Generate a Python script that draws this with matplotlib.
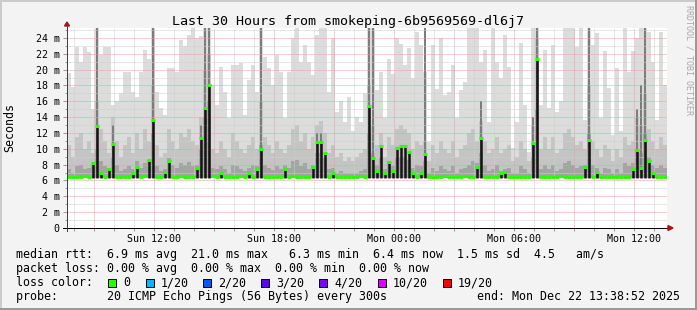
import datetime as dt
import matplotlib
matplotlib.use("Agg")
import matplotlib.pyplot as plt
import matplotlib.dates as mdates
from matplotlib.patches import Rectangle, Polygon
from matplotlib.ticker import MultipleLocator
import numpy as np

plt.rcParams["font.family"] = "DejaVu Sans Mono"

start = dt.datetime(2025, 12, 21, 7, 38, 52)
end = dt.datetime(2025, 12, 22, 13, 38, 52)
bin_minutes = 12

# smoke, ms per 12 minute bin (150 bins)
smoke_max = [
    19.6, 17.8, 22.9, 21.0, 22.9, 22.2, 15.0, 26.0, 21.8, 22.9,
    22.9, 15.5, 16.0, 17.0, 19.7, 19.7, 17.2, 16.6, 19.7, 22.5,
    21.3, 26.0, 17.2, 15.1, 14.3, 20.2, 20.2, 19.7, 23.8, 23.0,
    24.4, 26.0, 24.0, 24.2, 26.0, 26.0, 18.0, 15.5, 20.3, 17.2,
    13.9, 20.6, 20.6, 20.8, 14.3, 18.7, 20.6, 17.2, 26.0, 21.6,
    20.2, 18.1, 21.8, 19.7, 13.9, 19.7, 24.0, 26.0, 21.0, 23.1,
    21.0, 19.3, 24.4, 26.0, 26.0, 17.2, 24.0, 14.7, 16.0, 13.4,
    16.5, 12.2, 14.0, 13.4, 17.0, 26.0, 26.0, 17.4, 19.7, 13.9,
    21.4, 19.5, 24.0, 23.3, 20.6, 22.7, 18.9, 24.8, 23.1, 19.7,
    10.9, 23.1, 17.6, 24.0, 16.8, 17.2, 20.6, 13.9, 17.4, 18.5,
    26.0, 26.0, 26.0, 21.0, 22.5, 13.4, 26.0, 21.0, 18.9, 24.4,
    20.3, 10.1, 13.4, 23.4, 15.5, 9.6, 26.0, 26.0, 15.5, 22.5,
    15.1, 23.1, 14.7, 16.0, 26.0, 26.0, 26.0, 22.9, 26.0, 13.6,
    26.0, 23.1, 24.6, 13.9, 22.3, 17.7, 11.7, 20.2, 12.2, 26.0,
    19.7, 22.3, 24.0, 26.0, 26.0, 24.8, 21.0, 13.6, 24.8, 18.1,
]
smoke_mid = [
    10.5, 9.0, 11.5, 12.0, 10.0, 11.0, 9.5, 16.0, 12.5, 11.0,
    9.5, 14.0, 11.0, 9.0, 10.5, 11.5, 9.5, 12.0, 10.0, 12.5,
    11.0, 18.0, 10.5, 9.0, 9.5, 12.5, 11.0, 10.0, 12.0, 11.5,
    12.5, 11.0, 10.5, 14.0, 20.0, 22.0, 10.0, 9.5, 11.0, 10.0,
    9.0, 12.0, 11.0, 10.0, 9.5, 10.5, 11.5, 10.0, 16.0, 11.5,
    10.5, 9.5, 11.0, 10.0, 9.5, 10.5, 12.5, 13.0, 11.0, 12.0,
    10.0, 11.5, 13.0, 13.5, 12.0, 9.5, 10.5, 9.0, 9.5, 8.5,
    9.0, 8.5, 9.0, 9.5, 10.0, 18.0, 13.0, 10.5, 12.0, 9.0,
    11.5, 10.5, 12.5, 13.0, 12.5, 12.0, 10.0, 11.0, 10.5, 11.0,
    8.5, 10.5, 9.5, 11.0, 10.0, 9.5, 11.0, 9.0, 10.0, 10.5,
    12.0, 12.5, 11.0, 13.5, 11.0, 9.5, 10.0, 11.5, 9.5, 10.0,
    10.5, 8.5, 9.0, 11.0, 10.0, 8.5, 13.0, 24.0, 10.0, 11.5,
    10.0, 11.5, 9.5, 10.0, 12.0, 12.5, 11.5, 10.5, 11.0, 10.0,
    18.0, 11.0, 10.0, 9.0, 10.5, 10.0, 8.5, 10.0, 9.0, 11.5,
    10.5, 11.0, 14.0, 13.0, 17.0, 12.5, 11.0, 10.0, 11.5, 10.5,
]
smoke_low = [
    7.4, 7.0, 7.8, 8.0, 7.5, 7.6, 8.0, 10.0, 8.5, 7.8,
    7.6, 9.0, 8.0, 7.2, 7.5, 7.8, 7.4, 8.5, 7.6, 8.2,
    8.6, 12.0, 7.8, 7.2, 7.5, 8.8, 8.0, 7.6, 8.2, 8.0,
    8.3, 7.8, 8.0, 10.0, 14.0, 16.0, 7.6, 7.4, 7.8, 7.5,
    7.0, 8.0, 7.8, 7.4, 7.2, 7.6, 8.0, 7.8, 10.5, 8.0,
    7.6, 7.3, 7.8, 7.5, 8.0, 7.6, 8.4, 8.6, 7.8, 8.2,
    7.5, 8.0, 9.5, 9.5, 8.8, 7.4, 7.6, 7.0, 7.2, 7.0,
    7.0, 6.9, 7.0, 7.2, 7.4, 12.0, 9.5, 8.0, 9.0, 7.4,
    8.5, 7.8, 9.0, 9.0, 9.0, 8.6, 7.6, 8.0, 7.8, 8.4,
    7.0, 7.6, 7.2, 7.8, 7.4, 7.2, 7.8, 7.0, 7.4, 7.6,
    8.0, 8.4, 8.2, 9.5, 8.0, 7.2, 7.5, 8.0, 7.2, 7.4,
    7.6, 7.0, 7.0, 7.8, 7.4, 7.0, 9.0, 15.0, 7.5, 8.0,
    7.4, 8.0, 7.2, 7.4, 8.2, 8.4, 8.0, 7.6, 7.8, 8.0,
    12.0, 8.0, 7.6, 7.0, 7.6, 7.4, 7.0, 7.4, 7.0, 8.2,
    7.8, 8.2, 10.0, 9.5, 12.0, 9.0, 8.0, 7.6, 8.0, 7.6,
]
median = [
    6.5, 6.5, 6.4, 6.5, 6.6, 6.5, 8.2, 12.9, 7.0, 6.5,
    7.5, 10.6, 6.5, 6.4, 6.5, 6.5, 6.9, 7.7, 6.5, 6.6,
    8.6, 13.6, 6.5, 6.4, 7.1, 8.4, 6.5, 6.5, 6.6, 6.5,
    6.5, 6.4, 7.6, 11.4, 15.1, 18.0, 6.6, 6.5, 7.0, 6.5,
    6.4, 6.5, 6.5, 6.6, 6.5, 6.9, 6.5, 7.4, 10.0, 6.5,
    6.5, 6.4, 6.5, 6.5, 7.5, 6.5, 6.6, 6.5, 6.5, 6.4,
    6.5, 7.7, 10.9, 10.9, 9.5, 6.5, 7.0, 6.4, 6.5, 6.5,
    6.4, 6.5, 6.5, 6.6, 6.5, 15.4, 8.9, 7.2, 10.3, 7.0,
    8.3, 7.2, 10.1, 10.4, 10.3, 9.6, 7.0, 6.5, 7.0, 9.3,
    6.5, 6.4, 6.5, 6.5, 6.6, 6.5, 6.4, 6.5, 6.5, 6.6,
    6.5, 6.5, 7.7, 11.4, 6.5, 6.4, 6.5, 6.5, 6.9, 7.1,
    6.5, 6.4, 6.5, 6.5, 6.5, 6.4, 10.7, 21.3, 6.5, 6.5,
    6.4, 6.5, 6.5, 6.6, 6.5, 6.4, 6.5, 6.5, 6.5, 7.7,
    11.1, 6.5, 7.1, 6.5, 6.4, 6.5, 6.5, 6.5, 6.4, 6.5,
    6.5, 7.5, 9.9, 7.6, 11.1, 8.4, 6.9, 6.5, 6.5, 6.5,
]
smoke_floor = 6.3

# dark smoke columns over the big spikes
spike_bins = [7, 11, 21, 33, 34, 35, 48, 62, 63, 75, 76, 89, 103, 116, 117, 130, 142, 143, 144]
spike_tops = [26, 13, 26, 13, 26, 26, 26, 12, 12, 26, 26, 26, 16, 14, 26, 26, 15, 18, 26]

loss_labels = ["0", "1/20", "2/20", "3/20", "4/20", "10/20", "19/20"]
loss_colors = ["#26ff00", "#00b8ff", "#0059ff", "#5e00ff", "#7e00ff", "#dd00ff", "#ff0000"]

W, H = 697, 310
fig = plt.figure(figsize=(W / 100, H / 100), dpi=100, facecolor="#f3f3f3")
ax = fig.add_axes([67 / W, (H - 228) / H, 600 / W, 200 / H])
ax.set_facecolor("white")

edges = mdates.date2num([start + dt.timedelta(minutes=bin_minutes * i) for i in range(len(median) + 1)])
centers = (edges[:-1] + edges[1:]) / 2
bw = edges[1] - edges[0]

def step(vals):
    return np.append(vals, vals[-1])

ax.fill_between(edges, smoke_floor, step(smoke_max), step="post", color="#dcdcdc", lw=0, zorder=1)
ax.fill_between(edges, smoke_floor, step(smoke_mid), step="post", color="#c4c4c4", lw=0, zorder=1.1)
ax.fill_between(edges, smoke_floor, step(smoke_low), step="post", color="#a4a4a4", lw=0, zorder=1.2)
ax.bar(centers[spike_bins], np.array(spike_tops) - smoke_floor, bottom=smoke_floor,
       width=bw * 0.6, color="#7c7c7c", lw=0, zorder=1.3)

# grid (drawn over the smoke like rrdtool)
dots = (0, (1, 1))
t = dt.datetime(2025, 12, 21, 8)
while t < end:
    c = "#e8a0a0" if t.hour % 3 == 0 else "#cfcfcf"
    ax.axvline(mdates.date2num(t), color=c, lw=0.72, ls=dots, zorder=2)
    t += dt.timedelta(hours=1)
for v in range(1, 26):
    c = "#e8a0a0" if v % 2 == 0 else "#cfcfcf"
    ax.axhline(v, color=c, lw=0.72, ls=dots, zorder=2)

med = np.array(median)
up = med > 6.8
ax.vlines(centers[up], smoke_floor, med[up], color="#151515", lw=1.8, zorder=2.5)
ax.hlines(med, edges[:-1], edges[1:], color=loss_colors[0], lw=2.2, zorder=3)

ax.set_xlim(edges[0], mdates.date2num(end))
ax.set_ylim(0, 25.26)
ax.set_yticks(range(0, 25, 2))
ax.set_yticklabels(["0"] + [f"{v} m" for v in range(2, 25, 2)])
ax.yaxis.set_minor_locator(MultipleLocator(1))
ax.xaxis.set_major_locator(mdates.HourLocator(byhour=[0, 6, 12, 18]))
ax.xaxis.set_major_formatter(mdates.DateFormatter("%a %H:%M"))
ax.xaxis.set_minor_locator(mdates.HourLocator())
ax.tick_params(axis="both", which="both", labelsize=7.2, color="#999999", width=0.72)
ax.tick_params(axis="y", which="major", length=3, pad=2.2)
ax.tick_params(axis="y", which="minor", length=1.5)
ax.tick_params(axis="x", which="major", length=2, pad=2.5)
ax.tick_params(axis="x", which="minor", length=2)

for s in ("top", "right"):
    ax.spines[s].set_visible(False)
ax.spines["left"].set_color("#404040")
ax.spines["left"].set_linewidth(0.72)
ax.spines["bottom"].set_color("black")
ax.spines["bottom"].set_linewidth(0.72)
ax.spines["bottom"].set_zorder(4)

tr = ax.transAxes
px, py = 1 / 600, 1 / 200
ax.plot([-4 * px, 1 + 2 * px], [0, 0], color="black", lw=0.72, transform=tr, clip_on=False, zorder=5)
ax.plot([0, 0], [-3 * py, 1 + 2 * py], color="#404040", lw=0.72, transform=tr, clip_on=False, zorder=5)
ax.add_patch(Polygon([[1 + 1 * px, 2.5 * py], [1 + 1 * px, -2.5 * py], [1 + 6 * px, 0]],
                     closed=True, color="#a01818", transform=tr, clip_on=False, zorder=6))
ax.add_patch(Polygon([[-2.5 * px, 1 + 2 * py], [2.5 * px, 1 + 2 * py], [0, 1 + 6 * py]],
                     closed=True, color="#a01818", transform=tr, clip_on=False, zorder=6))

def ftext(x, y, s, **kw):
    fig.text(x / W, 1 - y / H, s, **kw)

ftext(348.5, 24.5, "Last 30 Hours from smokeping-6b9569569-dl6j7", ha="center", va="baseline", fontsize=9.6)
ftext(10, 128, "Seconds", rotation=90, ha="center", va="center", fontsize=8.4)
ftext(689, 5, "RRDTOOL / TOBI OETIKER", rotation=270, ha="center", va="top", fontsize=6.0, color="#a8a8a8")

ftext(16, 258, "median rtt:  6.9 ms avg  21.0 ms max   6.3 ms min  6.4 ms now  1.5 ms sd  4.5   am/s",
      va="baseline", fontsize=8.4)
ftext(16, 272, "packet loss: 0.00 % avg  0.00 % max  0.00 % min  0.00 % now", va="baseline", fontsize=8.4)
ftext(16, 286, "loss color:", va="baseline", fontsize=8.4)
box_x = [108, 146, 203, 261, 319, 378, 443]
for bx, lab, col in zip(box_x, loss_labels, loss_colors):
    fig.add_artist(Rectangle((bx / W, 1 - 287 / H), 8 / W, 8 / H, transform=fig.transFigure,
                             facecolor=col, edgecolor="black", lw=0.72))
    ftext(bx + 15, 286, lab, va="baseline", fontsize=8.4)
ftext(16, 300, "probe:       20 ICMP Echo Pings (56 Bytes) every 300s", va="baseline", fontsize=8.4)
ftext(680, 300, "end: Mon Dec 22 13:38:52 2025", ha="right", va="baseline", fontsize=8.4)

# 3d frame around the image
fig.add_artist(Rectangle((0, 1 - 2 / H), 1, 2 / H, transform=fig.transFigure, color="#cbcbcb", lw=0))
fig.add_artist(Rectangle((0, 0), 2 / W, 1, transform=fig.transFigure, color="#cbcbcb", lw=0))
fig.add_artist(Rectangle((0, 0), 1, 2 / H, transform=fig.transFigure, color="#999999", lw=0))
fig.add_artist(Rectangle((1 - 2 / W, 0), 2 / W, 1, transform=fig.transFigure, color="#999999", lw=0))

fig.savefig("out.png", dpi=100, facecolor=fig.get_facecolor())
